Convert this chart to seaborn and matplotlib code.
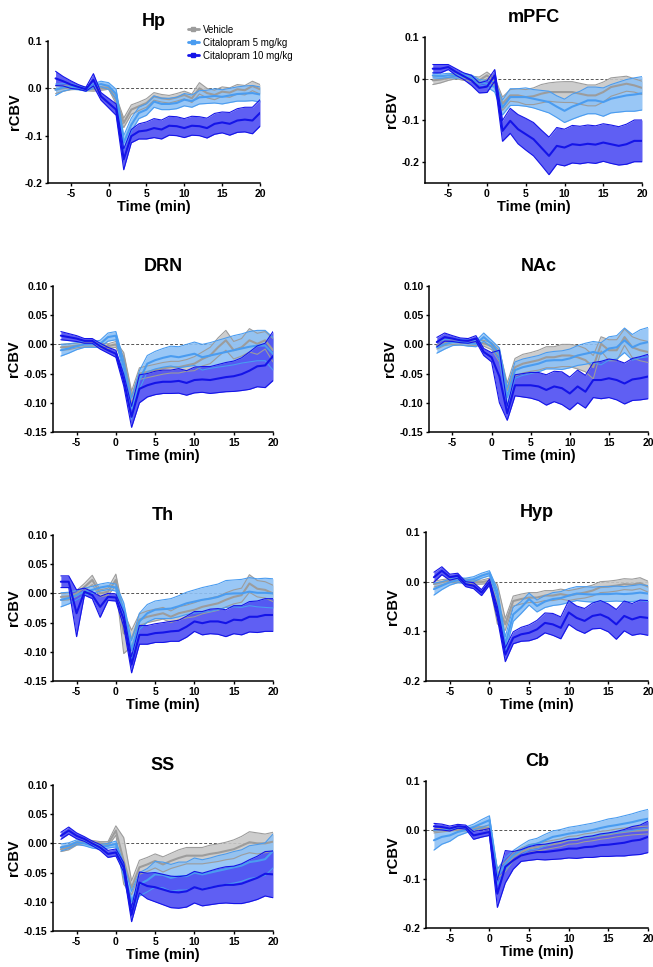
import numpy as np
import pandas as pd
import matplotlib
matplotlib.use("Agg")
import matplotlib.pyplot as plt
from matplotlib.lines import Line2D
import seaborn as sns

# Estilo general
sns.set_style("ticks")
plt.rcParams["font.family"] = ["Liberation Sans", "DejaVu Sans"]
plt.rcParams["font.weight"] = "bold"
plt.rcParams["axes.unicode_minus"] = False
for key in ["text.color", "axes.labelcolor", "xtick.color", "ytick.color", "axes.edgecolor"]:
    plt.rcParams[key] = "black"

# Tiempo (min)
time = list(range(-7, 21))

# ---- Hp ----
hp_veh = [-0.003, 0.000, 0.002, 0.002, -0.001, -0.002, 0.000, 0.002, -0.025, -0.073, -0.045, -0.038, -0.031, -0.017, -0.021, -0.023, -0.019, -0.014, -0.021, 0.000, -0.010, -0.014, -0.007, -0.009, -0.002, -0.004, 0.005, -0.002]
hp_veh_sem = [0.008, 0.006, 0.005, 0.004, 0.004, 0.004, 0.004, 0.004, 0.008, 0.010, 0.010, 0.009, 0.009, 0.008, 0.008, 0.008, 0.008, 0.008, 0.009, 0.012, 0.010, 0.010, 0.010, 0.010, 0.010, 0.010, 0.010, 0.010]
hp_c5 = [-0.003, 0.002, 0.004, 0.001, -0.002, 0.005, 0.009, 0.005, -0.012, -0.115, -0.077, -0.052, -0.045, -0.028, -0.033, -0.033, -0.031, -0.024, -0.027, -0.019, -0.018, -0.016, -0.018, -0.015, -0.012, -0.011, -0.010, -0.013]
hp_c5_sem = [0.012, 0.008, 0.006, 0.004, 0.004, 0.005, 0.006, 0.007, 0.010, 0.015, 0.014, 0.012, 0.012, 0.012, 0.012, 0.012, 0.012, 0.013, 0.013, 0.014, 0.014, 0.015, 0.015, 0.015, 0.015, 0.016, 0.016, 0.016]
hp_c10 = [0.021, 0.015, 0.008, 0.003, -0.002, 0.018, -0.017, -0.031, -0.045, -0.150, -0.101, -0.091, -0.089, -0.084, -0.087, -0.079, -0.080, -0.084, -0.079, -0.080, -0.084, -0.075, -0.072, -0.075, -0.068, -0.066, -0.068, -0.052]
hp_c10_sem = [0.015, 0.010, 0.008, 0.005, 0.004, 0.013, 0.008, 0.010, 0.012, 0.022, 0.014, 0.016, 0.018, 0.020, 0.020, 0.020, 0.020, 0.020, 0.020, 0.020, 0.021, 0.022, 0.022, 0.024, 0.025, 0.026, 0.028, 0.028]

# ---- mPFC ----
mpfc_veh = [-0.004, -0.002, 0.002, 0.006, 0.002, 0.000, -0.004, 0.008, -0.008, -0.060, -0.040, -0.040, -0.044, -0.042, -0.036, -0.032, -0.032, -0.032, -0.032, -0.036, -0.040, -0.040, -0.032, -0.020, -0.016, -0.012, -0.016, -0.022]
mpfc_veh_sem = [0.010, 0.008, 0.006, 0.006, 0.006, 0.006, 0.008, 0.008, 0.010, 0.016, 0.014, 0.016, 0.018, 0.020, 0.022, 0.022, 0.024, 0.025, 0.025, 0.025, 0.025, 0.025, 0.024, 0.022, 0.020, 0.018, 0.016, 0.016]
mpfc_c5 = [0.008, 0.006, 0.008, 0.006, 0.008, 0.004, -0.008, -0.012, -0.020, -0.069, -0.044, -0.044, -0.044, -0.048, -0.052, -0.056, -0.067, -0.077, -0.067, -0.060, -0.052, -0.052, -0.056, -0.048, -0.044, -0.040, -0.038, -0.035]
mpfc_c5_sem = [0.006, 0.005, 0.005, 0.005, 0.005, 0.005, 0.006, 0.008, 0.012, 0.018, 0.020, 0.020, 0.022, 0.022, 0.024, 0.026, 0.026, 0.028, 0.030, 0.030, 0.032, 0.032, 0.034, 0.034, 0.036, 0.038, 0.040, 0.040]
mpfc_c10 = [0.024, 0.024, 0.028, 0.016, 0.006, -0.004, -0.022, -0.019, 0.008, -0.125, -0.101, -0.121, -0.133, -0.145, -0.165, -0.185, -0.161, -0.165, -0.157, -0.159, -0.156, -0.158, -0.153, -0.157, -0.161, -0.157, -0.149, -0.149]
mpfc_c10_sem = [0.010, 0.010, 0.006, 0.008, 0.008, 0.012, 0.012, 0.014, 0.014, 0.025, 0.030, 0.035, 0.038, 0.040, 0.042, 0.045, 0.044, 0.044, 0.045, 0.045, 0.045, 0.045, 0.045, 0.046, 0.046, 0.048, 0.050, 0.050]

# ---- DRN ----
drn_veh = [-0.005, -0.004, -0.002, 0.000, 0.000, -0.002, -0.003, 0.000, -0.022, -0.090, -0.050, -0.047, -0.044, -0.041, -0.039, -0.039, -0.036, -0.033, -0.025, -0.019, -0.005, 0.007, -0.010, -0.005, 0.007, 0.001, 0.007, -0.010]
drn_veh_sem = [0.005, 0.005, 0.004, 0.004, 0.004, 0.004, 0.004, 0.005, 0.008, 0.010, 0.010, 0.010, 0.010, 0.010, 0.010, 0.010, 0.010, 0.012, 0.012, 0.014, 0.016, 0.017, 0.015, 0.015, 0.020, 0.018, 0.015, 0.020]
drn_c5 = [-0.010, -0.007, -0.003, 0.000, 0.000, 0.001, 0.0125, 0.015, -0.039, -0.110, -0.061, -0.033, -0.027, -0.023, -0.020, -0.022, -0.019, -0.016, -0.022, -0.019, -0.016, -0.013, -0.010, -0.007, -0.004, -0.002, -0.002, -0.016]
drn_c5_sem = [0.010, 0.008, 0.006, 0.005, 0.005, 0.006, 0.007, 0.007, 0.012, 0.018, 0.016, 0.014, 0.015, 0.016, 0.017, 0.018, 0.019, 0.020, 0.022, 0.022, 0.023, 0.024, 0.025, 0.025, 0.026, 0.026, 0.026, 0.028]
drn_c10 = [0.015, 0.0125, 0.010, 0.006, 0.006, -0.003, -0.010, -0.016, -0.061, -0.124, -0.076, -0.070, -0.066, -0.064, -0.064, -0.0625, -0.066, -0.061, -0.060, -0.061, -0.0585, -0.056, -0.0545, -0.051, -0.045, -0.0375, -0.036, -0.020]
drn_c10_sem = [0.007, 0.006, 0.005, 0.004, 0.004, 0.005, 0.005, 0.006, 0.010, 0.018, 0.024, 0.020, 0.020, 0.020, 0.020, 0.021, 0.021, 0.022, 0.022, 0.023, 0.024, 0.025, 0.026, 0.028, 0.032, 0.035, 0.038, 0.042]

# ---- NAc ----
nac_veh = [-0.002, 0.003, 0.004, 0.003, 0.002, 0.002, 0.002, -0.003, -0.020, -0.078, -0.039, -0.033, -0.030, -0.027, -0.022, -0.022, -0.019, -0.019, -0.022, -0.027, -0.039, 0.001, -0.010, -0.010, 0.0125, -0.005, -0.010, -0.013]
nac_veh_sem = [0.006, 0.005, 0.004, 0.004, 0.004, 0.004, 0.005, 0.006, 0.010, 0.012, 0.015, 0.016, 0.016, 0.017, 0.018, 0.018, 0.019, 0.019, 0.020, 0.020, 0.020, 0.012, 0.018, 0.018, 0.014, 0.018, 0.018, 0.018]
nac_c5 = [-0.005, 0.000, 0.004, 0.004, 0.002, 0.001, 0.0125, 0.001, -0.016, -0.090, -0.044, -0.039, -0.036, -0.033, -0.028, -0.027, -0.027, -0.024, -0.019, -0.016, -0.013, -0.016, -0.007, -0.005, 0.007, -0.005, 0.001, 0.004]
nac_c5_sem = [0.010, 0.008, 0.006, 0.005, 0.005, 0.005, 0.007, 0.006, 0.010, 0.016, 0.014, 0.014, 0.014, 0.014, 0.014, 0.015, 0.016, 0.016, 0.017, 0.018, 0.018, 0.019, 0.020, 0.020, 0.021, 0.022, 0.024, 0.025]
nac_c10 = [0.004, 0.0125, 0.010, 0.007, 0.006, 0.010, -0.013, -0.022, -0.055, -0.118, -0.070, -0.070, -0.070, -0.072, -0.078, -0.072, -0.075, -0.084, -0.072, -0.081, -0.061, -0.061, -0.058, -0.061, -0.067, -0.060, -0.058, -0.055]
nac_c10_sem = [0.008, 0.007, 0.005, 0.004, 0.004, 0.005, 0.006, 0.008, 0.045, 0.012, 0.018, 0.020, 0.022, 0.024, 0.026, 0.026, 0.028, 0.028, 0.028, 0.028, 0.030, 0.032, 0.033, 0.034, 0.035, 0.036, 0.037, 0.038]

# ---- Th ----
th_veh = [-0.006, -0.005, 0.000, 0.011, 0.023, 0.000, 0.003, 0.023, -0.068, -0.077, -0.045, -0.040, -0.037, -0.034, -0.040, -0.034, -0.031, -0.028, -0.023, -0.020, -0.017, -0.011, -0.006, -0.003, 0.017, 0.008, 0.006, 0.000]
th_veh_sem = [0.006, 0.006, 0.005, 0.006, 0.008, 0.006, 0.006, 0.010, 0.035, 0.014, 0.010, 0.010, 0.010, 0.010, 0.010, 0.011, 0.011, 0.012, 0.012, 0.012, 0.012, 0.012, 0.012, 0.012, 0.015, 0.014, 0.014, 0.014]
th_c5 = [-0.011, -0.008, -0.003, 0.003, 0.006, 0.010, 0.0125, 0.010, -0.028, -0.097, -0.048, -0.034, -0.028, -0.027, -0.026, -0.022, -0.017, -0.014, -0.011, -0.009, -0.006, -0.001, 0.000, 0.000, 0.003, 0.001, 0.001, 0.000]
th_c5_sem = [0.012, 0.010, 0.008, 0.006, 0.006, 0.006, 0.006, 0.006, 0.012, 0.016, 0.014, 0.015, 0.015, 0.016, 0.017, 0.018, 0.019, 0.020, 0.021, 0.022, 0.022, 0.023, 0.023, 0.024, 0.024, 0.024, 0.025, 0.025]
th_c10 = [0.020, 0.020, -0.034, 0.003, -0.003, -0.023, -0.006, -0.007, -0.045, -0.122, -0.071, -0.071, -0.068, -0.067, -0.065, -0.064, -0.057, -0.048, -0.051, -0.048, -0.048, -0.051, -0.045, -0.046, -0.040, -0.040, -0.037, -0.037]
th_c10_sem = [0.010, 0.010, 0.040, 0.006, 0.006, 0.018, 0.006, 0.006, 0.012, 0.014, 0.016, 0.016, 0.016, 0.017, 0.017, 0.018, 0.018, 0.017, 0.020, 0.021, 0.022, 0.023, 0.024, 0.025, 0.026, 0.027, 0.028, 0.028]

# ---- Hyp ----
hyp_veh = [-0.005, -0.001, 0.002, 0.002, 0.002, -0.001, -0.001, 0.002, -0.045, -0.086, -0.039, -0.035, -0.032, -0.032, -0.028, -0.028, -0.025, -0.028, -0.025, -0.022, -0.018, -0.011, -0.010, -0.008, -0.005, -0.006, -0.003, -0.010]
hyp_veh_sem = [0.006, 0.005, 0.004, 0.004, 0.004, 0.004, 0.004, 0.005, 0.040, 0.012, 0.010, 0.010, 0.010, 0.010, 0.010, 0.010, 0.010, 0.010, 0.010, 0.011, 0.011, 0.011, 0.011, 0.011, 0.011, 0.011, 0.011, 0.011]
hyp_c5 = [-0.015, -0.008, -0.001, 0.003, 0.002, 0.005, 0.012, 0.017, -0.025, -0.127, -0.066, -0.052, -0.035, -0.049, -0.040, -0.035, -0.033, -0.028, -0.024, -0.025, -0.026, -0.025, -0.025, -0.024, -0.025, -0.024, -0.022, -0.024]
hyp_c5_sem = [0.012, 0.008, 0.006, 0.005, 0.005, 0.005, 0.005, 0.005, 0.010, 0.016, 0.014, 0.012, 0.012, 0.012, 0.012, 0.013, 0.013, 0.014, 0.014, 0.015, 0.015, 0.015, 0.015, 0.015, 0.015, 0.016, 0.016, 0.016]
hyp_c10 = [0.009, 0.022, 0.009, 0.012, -0.005, -0.008, -0.022, -0.001, -0.062, -0.147, -0.113, -0.106, -0.103, -0.096, -0.083, -0.086, -0.093, -0.062, -0.073, -0.079, -0.069, -0.066, -0.073, -0.086, -0.069, -0.076, -0.071, -0.073]
hyp_c10_sem = [0.010, 0.008, 0.006, 0.005, 0.005, 0.006, 0.006, 0.006, 0.012, 0.014, 0.012, 0.014, 0.016, 0.018, 0.020, 0.022, 0.022, 0.024, 0.024, 0.025, 0.026, 0.028, 0.028, 0.030, 0.030, 0.032, 0.034, 0.035]

# ---- SS ----
ss_veh = [-0.010, -0.007, 0.000, 0.003, 0.002, 0.000, -0.001, 0.022, -0.030, -0.076, -0.041, -0.036, -0.030, -0.036, -0.030, -0.025, -0.021, -0.021, -0.021, -0.018, -0.016, -0.013, -0.010, -0.004, 0.002, 0.000, 0.000, 0.003]
ss_veh_sem = [0.004, 0.004, 0.003, 0.003, 0.003, 0.003, 0.004, 0.008, 0.040, 0.012, 0.012, 0.012, 0.012, 0.013, 0.013, 0.014, 0.014, 0.014, 0.014, 0.015, 0.015, 0.015, 0.016, 0.016, 0.018, 0.018, 0.016, 0.016]
ss_c5 = [-0.007, -0.004, 0.002, 0.000, -0.004, -0.006, -0.004, -0.001, -0.047, -0.099, -0.070, -0.063, -0.053, -0.054, -0.059, -0.056, -0.056, -0.050, -0.053, -0.050, -0.047, -0.044, -0.041, -0.038, -0.032, -0.030, -0.027, -0.013]
ss_c5_sem = [0.006, 0.005, 0.004, 0.004, 0.004, 0.004, 0.004, 0.005, 0.012, 0.017, 0.020, 0.020, 0.022, 0.022, 0.023, 0.024, 0.024, 0.025, 0.025, 0.025, 0.026, 0.026, 0.027, 0.027, 0.028, 0.028, 0.028, 0.029]
ss_c10 = [0.013, 0.022, 0.013, 0.0075, 0.000, -0.007, -0.018, -0.0155, -0.041, -0.122, -0.067, -0.073, -0.075, -0.079, -0.083, -0.084, -0.082, -0.075, -0.079, -0.076, -0.073, -0.071, -0.071, -0.069, -0.064, -0.059, -0.052, -0.053]
ss_c10_sem = [0.006, 0.006, 0.005, 0.004, 0.004, 0.005, 0.006, 0.006, 0.008, 0.012, 0.018, 0.022, 0.025, 0.026, 0.027, 0.027, 0.027, 0.027, 0.028, 0.029, 0.030, 0.031, 0.032, 0.034, 0.036, 0.037, 0.038, 0.040]

# ---- Cb ----
cb_veh = [-0.002, 0.000, 0.001, 0.002, 0.001, 0.003, 0.004, 0.005, -0.089, -0.075, -0.055, -0.045, -0.038, -0.035, -0.032, -0.029, -0.026, -0.021, -0.020, -0.016, -0.014, -0.011, -0.009, -0.006, -0.004, -0.002, -0.001, 0.000]
cb_veh_sem = [0.004, 0.004, 0.003, 0.003, 0.003, 0.003, 0.003, 0.004, 0.010, 0.010, 0.008, 0.008, 0.008, 0.008, 0.008, 0.008, 0.008, 0.008, 0.008, 0.008, 0.008, 0.008, 0.008, 0.008, 0.008, 0.008, 0.008, 0.008]
cb_c5 = [-0.021, -0.014, -0.011, -0.004, 0.000, 0.006, 0.013, 0.020, -0.096, -0.069, -0.052, -0.041, -0.031, -0.028, -0.021, -0.014, -0.011, -0.0075, -0.005, -0.003, 0.000, 0.004, 0.0075, 0.010, 0.013, 0.016, 0.020, 0.023]
cb_c5_sem = [0.020, 0.015, 0.012, 0.008, 0.006, 0.006, 0.008, 0.009, 0.016, 0.012, 0.010, 0.010, 0.010, 0.011, 0.012, 0.012, 0.012, 0.013, 0.013, 0.014, 0.014, 0.014, 0.015, 0.015, 0.016, 0.017, 0.018, 0.019]
cb_c10 = [0.0075, 0.006, 0.003, 0.0075, 0.006, -0.011, -0.0075, -0.004, -0.130, -0.075, -0.062, -0.052, -0.048, -0.045, -0.045, -0.043, -0.041, -0.038, -0.038, -0.035, -0.034, -0.031, -0.030, -0.028, -0.026, -0.022, -0.020, -0.014]
cb_c10_sem = [0.006, 0.006, 0.005, 0.004, 0.004, 0.008, 0.007, 0.007, 0.028, 0.033, 0.018, 0.012, 0.014, 0.015, 0.016, 0.017, 0.018, 0.019, 0.020, 0.021, 0.022, 0.023, 0.024, 0.025, 0.027, 0.029, 0.030, 0.032]

regions = ["Hp", "mPFC", "DRN", "NAc", "Th", "Hyp", "SS", "Cb"]
groups = ["Vehicle", "Citalopram 5 mg/kg", "Citalopram 10 mg/kg"]

series = {
    "Hp": [(hp_veh, hp_veh_sem), (hp_c5, hp_c5_sem), (hp_c10, hp_c10_sem)],
    "mPFC": [(mpfc_veh, mpfc_veh_sem), (mpfc_c5, mpfc_c5_sem), (mpfc_c10, mpfc_c10_sem)],
    "DRN": [(drn_veh, drn_veh_sem), (drn_c5, drn_c5_sem), (drn_c10, drn_c10_sem)],
    "NAc": [(nac_veh, nac_veh_sem), (nac_c5, nac_c5_sem), (nac_c10, nac_c10_sem)],
    "Th": [(th_veh, th_veh_sem), (th_c5, th_c5_sem), (th_c10, th_c10_sem)],
    "Hyp": [(hyp_veh, hyp_veh_sem), (hyp_c5, hyp_c5_sem), (hyp_c10, hyp_c10_sem)],
    "SS": [(ss_veh, ss_veh_sem), (ss_c5, ss_c5_sem), (ss_c10, ss_c10_sem)],
    "Cb": [(cb_veh, cb_veh_sem), (cb_c5, cb_c5_sem), (cb_c10, cb_c10_sem)],
}

# Ejes Y por region
ylims = [(-0.2, 0.1), (-0.25, 0.1), (-0.15, 0.1), (-0.15, 0.1),
         (-0.15, 0.1), (-0.2, 0.1), (-0.15, 0.1), (-0.2, 0.1)]
yticks_a = [-0.2, -0.1, 0.0, 0.1]
ylabels_a = ["-0.2", "-0.1", "0.0", "0.1"]
ylabels_m = ["-0.2", "-0.1", "0", "0.1"]
yticks_b = [-0.15, -0.10, -0.05, 0.00, 0.05, 0.10]
ylabels_b = ["-0.15", "-0.10", "-0.05", "0.00", "0.05", "0.10"]
yaxes = [(yticks_a, ylabels_a), (yticks_a, ylabels_m), (yticks_b, ylabels_b), (yticks_b, ylabels_b),
         (yticks_b, ylabels_b), (yticks_a, ylabels_a), (yticks_b, ylabels_b), (yticks_a, ylabels_a)]

line_colors = ["#9c9c9c", "#4a9cf0", "#1414e8"]
fill_colors = ["#c8c8c8", "#8ec1f5", "#4d4df2"]

W, H = 653, 967
fig = plt.figure(figsize=(W / 100, H / 100), dpi=100)

# cajas de ejes en pixeles (izq, arriba, der, abajo)
boxes = [(48, 41, 260, 183), (425, 37, 642, 183),
         (53, 286, 273, 432), (429, 286, 648, 432),
         (53, 535, 273, 681), (426, 532, 648, 681),
         (53, 785, 273, 931), (426, 781, 648, 928)]

for i, reg in enumerate(regions):
    l, t, r, b = boxes[i]
    ax = fig.add_axes([l / W, 1 - b / H, (r - l) / W, (b - t) / H])
    ax.axhline(0, color="#555555", lw=0.7, ls=(0, (3, 2)), zorder=0.5)

    for k, (m, s) in enumerate(series[reg]):
        m = np.array(m)
        s = np.array(s)
        ax.fill_between(time, m - s, m + s, color=fill_colors[k], alpha=0.9, lw=0, zorder=1 + k)

    for k, (m, s) in enumerate(series[reg]):
        m = np.array(m)
        s = np.array(s)
        df = pd.DataFrame({"time": time, "mean": m, "lo": m - s, "hi": m + s})
        sns.lineplot(data=df, x="time", y="lo", color=line_colors[k], lw=0.8, ax=ax, zorder=5 + k)
        sns.lineplot(data=df, x="time", y="hi", color=line_colors[k], lw=0.8, ax=ax, zorder=5 + k)
        sns.lineplot(data=df, x="time", y="mean", color=line_colors[k], lw=1.5, ax=ax, zorder=5 + k)

    ax.set_xlim(-8, 20)
    ax.set_ylim(*ylims[i])
    ax.set_xticks([-5, 0, 5, 10, 15, 20])
    ax.set_xticklabels(["-5", "0", "5", "10", "15", "20"])
    ax.set_yticks(yaxes[i][0])
    ax.set_yticklabels(yaxes[i][1])
    ax.tick_params(labelsize=7.5, length=2.5, width=1, pad=1.5, colors="black")
    for lab in ax.get_xticklabels() + ax.get_yticklabels():
        lab.set_fontweight("bold")
    sns.despine(ax=ax)
    for sp in ["left", "bottom"]:
        ax.spines[sp].set_linewidth(1.1)
        ax.spines[sp].set_color("black")
    ax.set_xlabel("Time (min)", fontsize=10.5, fontweight="bold", labelpad=1, color="black")
    ax.set_ylabel("rCBV", fontsize=10.5, fontweight="bold", labelpad=2, color="black")
    ax.set_title(reg, fontsize=13, fontweight="bold", pad=11, color="black")

handles = [Line2D([0], [0], color=c, lw=2, marker="s", markersize=2.5) for c in line_colors]
fig.legend(handles, groups, loc="upper left", bbox_to_anchor=(184 / W, 1 - 21 / H),
           frameon=False, prop={"size": 7, "weight": "normal"},
           handlelength=1.1, handletextpad=0.5, labelspacing=0.3, borderaxespad=0)

fig.savefig("out.png", dpi=100)
